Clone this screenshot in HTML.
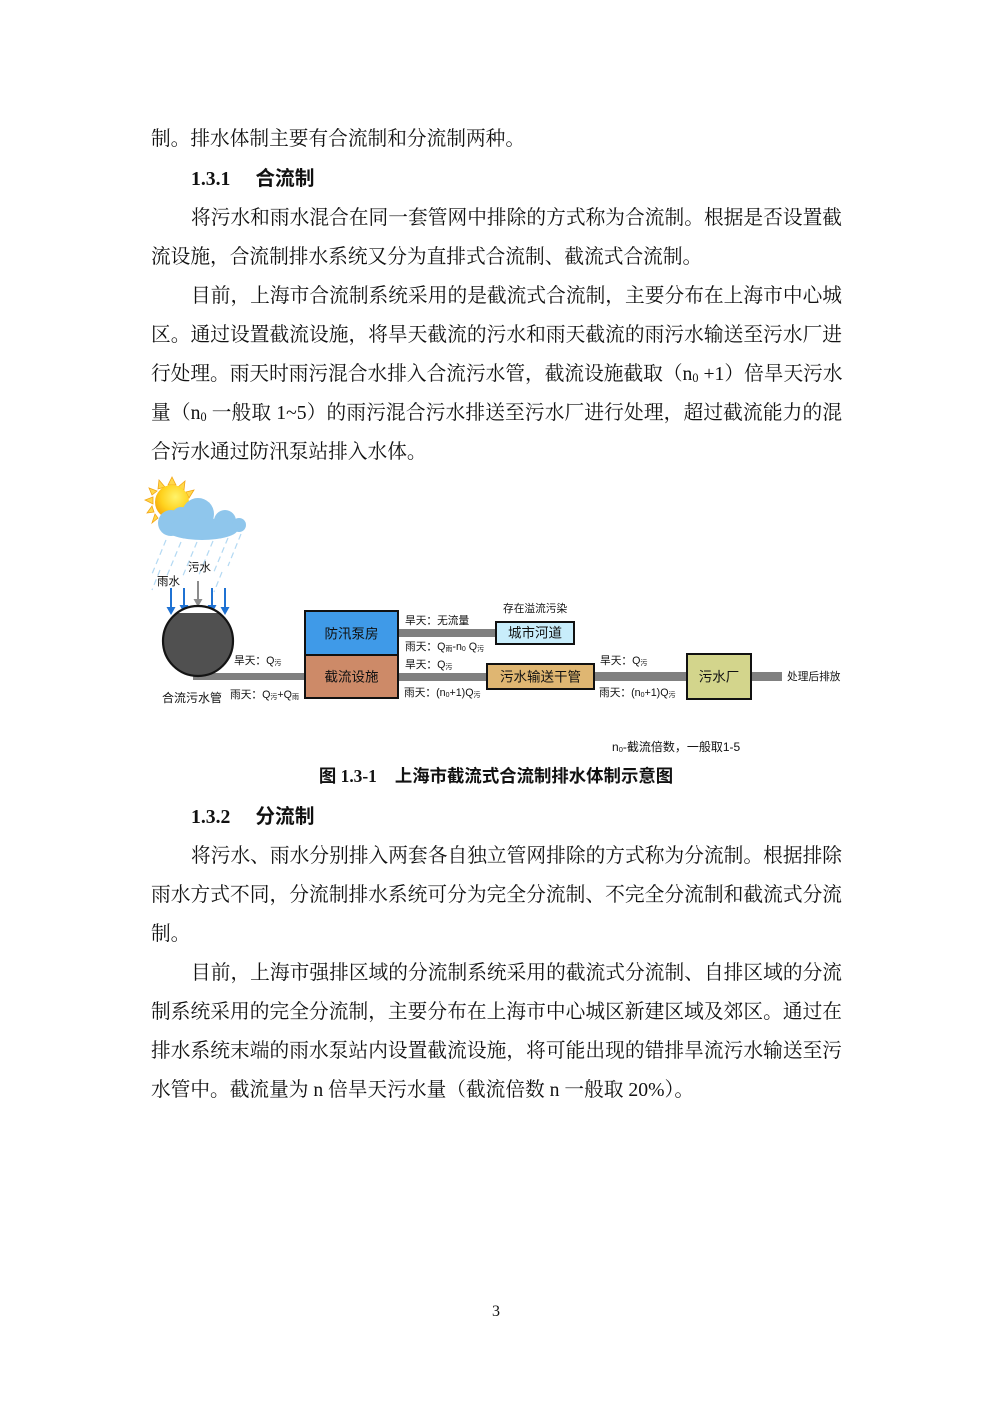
<!DOCTYPE html>
<html><head><meta charset="utf-8">
<style>
html,body{margin:0;padding:0;background:#fff;}
#pg{position:relative;width:992px;height:1403px;overflow:hidden;background:#fff;}
.t{position:absolute;font-family:"Liberation Serif","Noto Serif CJK SC",serif;font-size:19.7px;line-height:39px;color:#111;white-space:nowrap;}
.j{width:691px;left:151px;text-align:justify;text-align-last:justify;}
.ji{width:651px;left:191px;text-align:justify;text-align-last:justify;}
.l{left:151px;}
.li{left:191px;}
.h{font-weight:bold;}
.h .c{font-family:"Liberation Serif","Noto Sans CJK SC",sans-serif;font-weight:bold;}
sub{font-size:0.62em;vertical-align:-0.18em;line-height:0;}
svg text{font-family:"Liberation Sans","Noto Sans CJK SC",sans-serif;fill:#111;}
</style></head><body><div id="pg">

<div class="t l" style="top:120px;">制。排水体制主要有合流制和分流制两种。</div>
<div class="t li h" style="top:160px;">1.3.1<span class="c" style="margin-left:25px;">合流制</span></div>
<div class="t ji" style="top:199px;">将污水和雨水混合在同一套管网中排除的方式称为合流制。根据是否设置截</div>
<div class="t l" style="top:238px;">流设施，合流制排水系统又分为直排式合流制、截流式合流制。</div>
<div class="t ji" style="top:277px;">目前，上海市合流制系统采用的是截流式合流制，主要分布在上海市中心城</div>
<div class="t j" style="top:316px;">区。通过设置截流设施，将旱天截流的污水和雨天截流的雨污水输送至污水厂进</div>
<div class="t j" style="top:355px;">行处理。雨天时雨污混合水排入合流污水管，截流设施截取（n<sub>0</sub> +1）倍旱天污水</div>
<div class="t j" style="top:394px;">量（n<sub>0</sub> 一般取 1~5）的雨污混合污水排送至污水厂进行处理，超过截流能力的混</div>
<div class="t l" style="top:433px;">合污水通过防汛泵站排入水体。</div>

<svg width="992" height="1403" style="position:absolute;left:0;top:0;" xmlns="http://www.w3.org/2000/svg">
  <defs>
    <radialGradient id="sg" cx="0.6" cy="0.35" r="0.7">
      <stop offset="0" stop-color="#fff36a"/>
      <stop offset="0.6" stop-color="#ffd21e"/>
      <stop offset="1" stop-color="#f5a50a"/>
    </radialGradient>
  </defs>
  <!-- sun rays -->
  <g fill="#ffd84a" stroke="#f2a516" stroke-width="0.8">
    <polygon points="172,477 168,485 176,485"/>
    <polygon points="185,481 178,487 184,490"/>
    <polygon points="159,480 158,489 165,487"/>
    <polygon points="149,488 152,495 157,491"/>
    <polygon points="194,490 186,492 189,498"/>
    <polygon points="145,500 153,504 153,497"/>
    <polygon points="147,513 154,512 152,506"/>
    <polygon points="152,523 158,518 155,514"/>
  </g>
  <circle cx="172" cy="502" r="17" fill="url(#sg)"/>
  <!-- cloud -->
  <g fill="#8fc6ec">
    <circle cx="198" cy="514" r="16"/>
    <circle cx="171" cy="523" r="13"/>
    <circle cx="181" cy="516" r="9"/>
    <circle cx="225" cy="521" r="11"/>
    <circle cx="239" cy="525" r="7"/>
    <ellipse cx="202" cy="529" rx="36" ry="11"/>
  </g>
  <!-- rain -->
  <g stroke="#b3d9f3" stroke-width="1.2" stroke-dasharray="6 4">
    <line x1="166" y1="540" x2="152" y2="574"/>
    <line x1="181" y1="542" x2="166" y2="578"/>
    <line x1="197" y1="542" x2="182" y2="578"/>
    <line x1="213" y1="541" x2="198" y2="577"/>
    <line x1="228" y1="538" x2="213" y2="574"/>
    <line x1="241" y1="534" x2="228" y2="566"/>
    <line x1="160" y1="570" x2="152" y2="590"/>
    <line x1="222" y1="572" x2="214" y2="592"/>
  </g>
  <!-- arrows -->
  <g stroke="#1f72d3" stroke-width="2" fill="#1f72d3">
    <line x1="171" y1="588" x2="171" y2="609"/>
    <line x1="184" y1="588" x2="184" y2="607"/>
    <line x1="212" y1="588" x2="212" y2="607"/>
    <line x1="225" y1="588" x2="225" y2="609"/>
  </g>
  <g fill="#1f72d3">
    <polygon points="166.5,607 175.5,607 171,615"/>
    <polygon points="179.5,605 188.5,605 184,613"/>
    <polygon points="207.5,605 216.5,605 212,613"/>
    <polygon points="220.5,607 229.5,607 225,615"/>
  </g>
  <line x1="198" y1="581" x2="198" y2="601" stroke="#8c8c8c" stroke-width="2"/>
  <polygon points="193.5,599 202.5,599 198,607" fill="#8c8c8c"/>
  <!-- pipe from manhole -->
  <rect x="193" y="673" width="112" height="7" fill="#808080"/>
  <!-- sewer pipe circle -->
  <circle cx="198" cy="641" r="35" fill="#505050"/>
  <path d="M177,613 A35,35 0 0,1 219,613 Z" fill="#ffffff"/>
  <circle cx="198" cy="641" r="35" fill="none" stroke="#141414" stroke-width="2.2"/>
  <!-- connector pipes -->
  <rect x="398" y="629" width="98" height="8" fill="#808080"/>
  <rect x="398" y="673" width="89" height="8" fill="#808080"/>
  <rect x="594" y="672" width="93" height="9" fill="#808080"/>
  <rect x="751" y="672" width="31" height="9" fill="#808080"/>
  <!-- boxes -->
  <rect x="305" y="611" width="93" height="44" fill="#3f9ae8" stroke="#111" stroke-width="2"/>
  <rect x="305" y="655" width="93" height="43" fill="#cd8a68" stroke="#111" stroke-width="2"/>
  <rect x="496" y="622" width="78" height="22" fill="#c8edfb" stroke="#111" stroke-width="2"/>
  <rect x="487" y="664" width="107" height="25" fill="#dfb672" stroke="#111" stroke-width="2"/>
  <rect x="687" y="654" width="64" height="45" fill="#d3d58c" stroke="#111" stroke-width="2"/>
  <g font-size="13.5" text-anchor="middle" dominant-baseline="central">
    <text x="351.5" y="634">防汛泵房</text>
    <text x="351.5" y="677">截流设施</text>
    <text x="535" y="633">城市河道</text>
    <text x="540.5" y="677">污水输送干管</text>
    <text x="719" y="677">污水厂</text>
  </g>
  <!-- labels -->
  <g font-size="10.7" dominant-baseline="central">
    <text x="157" y="582" font-size="11.5">雨水</text>
    <text x="188" y="568" font-size="11.5">污水</text>
    <text x="234" y="661">旱天：Q<tspan font-size="7" dy="2">污</tspan></text>
    <text x="230" y="695">雨天：Q<tspan font-size="7" dy="2">污</tspan><tspan dy="-2">+Q</tspan><tspan font-size="7" dy="2">雨</tspan></text>
    <text x="162" y="698" font-size="12">合流污水管</text>
    <text x="405" y="621">旱天：无流量</text>
    <text x="405" y="647">雨天：Q<tspan font-size="7" dy="2">雨</tspan><tspan dy="-2">-n</tspan><tspan font-size="7" dy="2">0</tspan><tspan dy="-2"> Q</tspan><tspan font-size="7" dy="2">污</tspan></text>
    <text x="405" y="665">旱天：Q<tspan font-size="7" dy="2">污</tspan></text>
    <text x="404" y="693">雨天：(n<tspan font-size="7" dy="2">0</tspan><tspan dy="-2">+1)Q</tspan><tspan font-size="7" dy="2">污</tspan></text>
    <text x="503" y="609" font-size="10.7">存在溢流污染</text>
    <text x="600" y="661">旱天：Q<tspan font-size="7" dy="2">污</tspan></text>
    <text x="599" y="693">雨天：(n<tspan font-size="7" dy="2">0</tspan><tspan dy="-2">+1)Q</tspan><tspan font-size="7" dy="2">污</tspan></text>
    <text x="787" y="677">处理后排放</text>
    <text x="612" y="747" font-size="12">n<tspan font-size="7.5" dy="2">0</tspan><tspan dy="-2">-截流倍数，一般取1-5</tspan></text>
  </g>
</svg>

<div class="t h" style="left:0;width:992px;text-align:center;top:757px;font-size:17.4px;"><span class="c">图</span> 1.3-1<span class="c" style="margin-left:18px;">上海市截流式合流制排水体制示意图</span></div>

<div class="t li h" style="top:798px;">1.3.2<span class="c" style="margin-left:25px;">分流制</span></div>
<div class="t ji" style="top:837px;">将污水、雨水分别排入两套各自独立管网排除的方式称为分流制。根据排除</div>
<div class="t j" style="top:876px;">雨水方式不同，分流制排水系统可分为完全分流制、不完全分流制和截流式分流</div>
<div class="t l" style="top:915px;">制。</div>
<div class="t ji" style="top:954px;">目前，上海市强排区域的分流制系统采用的截流式分流制、自排区域的分流</div>
<div class="t j" style="top:993px;">制系统采用的完全分流制，主要分布在上海市中心城区新建区域及郊区。通过在</div>
<div class="t j" style="top:1032px;">排水系统末端的雨水泵站内设置截流设施，将可能出现的错排旱流污水输送至污</div>
<div class="t l" style="top:1071px;">水管中。截流量为 n 倍旱天污水量（截流倍数 n 一般取 20%）。</div>

<div class="t" style="left:0;width:992px;text-align:center;top:1292px;font-size:16px;">3</div>

</div></body></html>
